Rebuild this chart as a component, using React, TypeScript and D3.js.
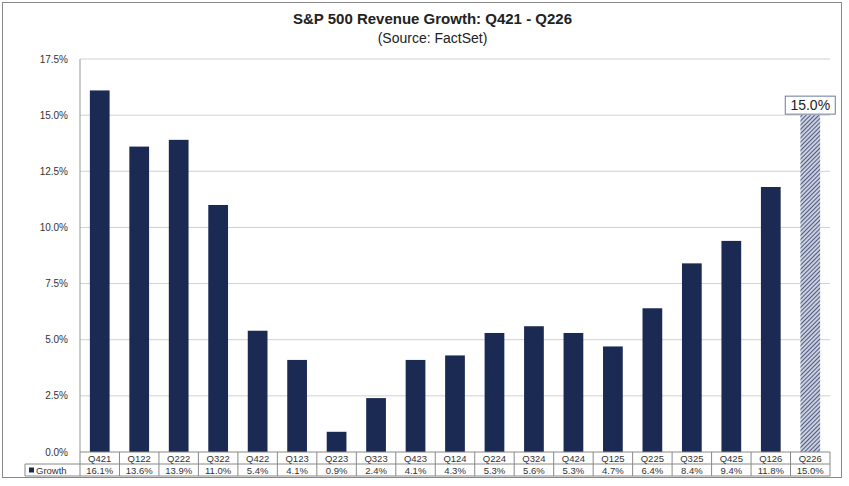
import * as d3 from 'd3';

const categories = ['Q421','Q122','Q222','Q322','Q422','Q123','Q223','Q323','Q423','Q124','Q224','Q324','Q424','Q125','Q225','Q325','Q425','Q126','Q226'];
const growth = [16.1,13.6,13.9,11.0,5.4,4.1,0.9,2.4,4.1,4.3,5.3,5.6,5.3,4.7,6.4,8.4,9.4,11.8,15.0];
const yTicks = [0,2.5,5,7.5,10,12.5,15,17.5];

const W = 849, H = 486;
const left = 80, right = 830, top = 59, bottom = 452;
const rowH = 12;

export default function App() {
  const x = d3.scaleBand<string>().domain(categories).range([left, right]).paddingInner(0.5).paddingOuter(0.25);
  const cell = d3.scaleBand<string>().domain(categories).range([left, right]);
  const y = d3.scaleLinear().domain([0, 17.5]).range([bottom, top]);
  const navy = '#1b2a52';
  const font = 'Arial, "Liberation Sans", sans-serif';
  const last = categories.length - 1;
  return (
    <svg width={W} height={H} style={{ position: 'absolute', left: 0, top: 0, fontFamily: font }}>
      <defs>
        <pattern id="hatch" width="3" height="3" patternUnits="userSpaceOnUse" patternTransform="rotate(45)">
          <rect width="3" height="3" fill="#c9cfe0" />
          <line x1="0" y1="0" x2="0" y2="3" stroke={navy} strokeWidth="1.4" />
        </pattern>
      </defs>
      <rect x={2.5} y={2.5} width={839} height={475} fill="white" stroke="#888" />
      <text x={W / 2 + 8} y={24} textAnchor="middle" fontSize={15} fontWeight="bold" fill="#222">S&amp;P 500 Revenue Growth: Q421 - Q226</text>
      <text x={W / 2 + 8} y={43} textAnchor="middle" fontSize={14} fill="#222">(Source: FactSet)</text>
      {yTicks.map(t => (
        <g key={t}>
          {t > 0 && <line x1={left} x2={right} y1={y(t)} y2={y(t)} stroke="#d0d0d0" />}
          <text x={left - 12} y={y(t) + 3.5} textAnchor="end" fontSize={10} fill="#333">{t.toFixed(1)}%</text>
        </g>
      ))}
      <line x1={left} x2={left} y1={top} y2={bottom} stroke="#999" />
      {growth.map((v, i) => (
        <rect key={i} x={x(categories[i])} y={y(v)} width={x.bandwidth()} height={bottom - y(v)}
          fill={i === last ? 'url(#hatch)' : navy} />
      ))}
      <rect x={x(categories[last])! + x.bandwidth() / 2 - 25} y={y(growth[last]) - 19} width={50} height={18} fill="white" stroke="#6b7b9a" />
      <text x={x(categories[last])! + x.bandwidth() / 2} y={y(growth[last]) - 5} textAnchor="middle" fontSize={14} fill="#222">{growth[last].toFixed(1)}%</text>
      {/* data table */}
      <line x1={left} x2={right} y1={bottom} y2={bottom} stroke="#888" />
      <line x1={25} x2={right} y1={bottom + rowH} y2={bottom + rowH} stroke="#888" />
      <line x1={25} x2={right} y1={bottom + 2 * rowH} y2={bottom + 2 * rowH} stroke="#888" />
      <line x1={25} x2={25} y1={bottom + rowH} y2={bottom + 2 * rowH} stroke="#888" />
      {categories.map((c, i) => (
        <g key={c}>
          <line x1={cell(c)! + cell.bandwidth()} x2={cell(c)! + cell.bandwidth()} y1={bottom} y2={bottom + 2 * rowH} stroke="#888" />
          {i === 0 && <line x1={left} x2={left} y1={bottom} y2={bottom + 2 * rowH} stroke="#888" />}
          <text x={cell(c)! + cell.bandwidth() / 2} y={bottom + 9.5} textAnchor="middle" fontSize={9.5} fill="#333">{c}</text>
          <text x={cell(c)! + cell.bandwidth() / 2} y={bottom + rowH + 9.5} textAnchor="middle" fontSize={9.5} fill="#333">{growth[i].toFixed(1)}%</text>
        </g>
      ))}
      <rect x={29} y={bottom + rowH + 3.5} width={5} height={5} fill={navy} />
      <text x={36} y={bottom + rowH + 9.5} fontSize={9.5} fill="#333">Growth</text>
    </svg>
  );
}
